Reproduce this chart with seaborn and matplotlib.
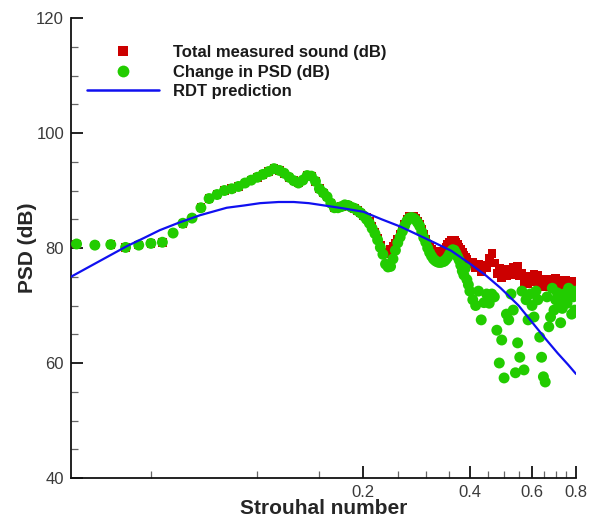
import matplotlib
matplotlib.use("Agg")
import matplotlib.pyplot as plt
from matplotlib.lines import Line2D
from matplotlib.ticker import FixedLocator, FixedFormatter, NullFormatter
import seaborn as sns
import pandas as pd

# ---------------- data ----------------
ST = [0.0308, 0.0347, 0.0385, 0.0424, 0.0462, 0.0500, 0.0539, 0.0578, 0.0616, 0.0654,
      0.0693, 0.0731, 0.0770, 0.0808, 0.0847, 0.0885, 0.0924, 0.0962, 0.1001, 0.1039,
      0.1078, 0.1116, 0.1155, 0.1193, 0.1232, 0.1270, 0.1309, 0.1347, 0.1386, 0.1424,
      0.1463, 0.1501, 0.1540, 0.1578, 0.1617, 0.1655, 0.1694, 0.1732, 0.1771, 0.1809,
      0.1848, 0.1886, 0.1925, 0.1963, 0.2002,
      0.2040, 0.2079, 0.2117, 0.2156, 0.2194, 0.2233, 0.2271, 0.2310, 0.2348, 0.2387,
      0.2425, 0.2464, 0.2502, 0.2541, 0.2579, 0.2618, 0.2656, 0.2695, 0.2733, 0.2772,
      0.2810, 0.2849, 0.2887, 0.2926, 0.2964, 0.3003, 0.3041, 0.3080, 0.3118, 0.3157,
      0.3195, 0.3234, 0.3272, 0.3311, 0.3349, 0.3388, 0.3426, 0.3465, 0.3503, 0.3542,
      0.3580, 0.3619, 0.3657, 0.3696, 0.3734, 0.3773, 0.3811, 0.3850, 0.3888, 0.3927,
      0.3965, 0.4004,
      0.4081, 0.4158, 0.4235, 0.4312, 0.4389, 0.4466, 0.4543, 0.4620, 0.4697, 0.4774,
      0.4851, 0.4928, 0.5005, 0.5082, 0.5159, 0.5236, 0.5313, 0.5390, 0.5467, 0.5544,
      0.5621, 0.5698, 0.5775, 0.5852, 0.5929, 0.6006, 0.6083, 0.6160, 0.6237, 0.6314,
      0.6391, 0.6468, 0.6545, 0.6622, 0.6699, 0.6776, 0.6853, 0.6930, 0.7007, 0.7084,
      0.7161, 0.7238, 0.7315, 0.7392, 0.7469, 0.7546, 0.7623, 0.7700, 0.7777, 0.7854,
      0.7931, 0.8008]

TOTAL_DB = [80.7, 80.5, 80.6, 80.1, 80.5, 80.8, 81.0, 82.6, 84.3, 85.2,
            87.0, 88.6, 89.3, 90.0, 90.3, 90.7, 91.3, 91.8, 92.3, 92.8,
            93.3, 93.8, 93.5, 93.0, 92.3, 91.7, 91.3, 91.8, 92.6, 92.5,
            91.6, 90.3, 89.6, 88.9, 87.8, 87.0, 87.0, 87.2, 87.5, 87.4,
            87.1, 86.9, 86.5, 86.1, 85.6,
            85.3, 84.6, 83.7, 82.8, 81.7, 80.4, 79.3, 79.0, 79.2, 79.7,
            80.3, 80.9, 81.5, 82.3, 83.2, 84.2, 85.0, 85.5, 85.6, 85.5,
            85.2, 84.7, 84.1, 83.2, 82.3, 81.5, 80.7, 80.1, 79.7, 79.4,
            79.3, 79.2, 79.2, 79.3, 79.5, 79.8, 80.2, 80.6, 81.0, 81.3,
            81.4, 81.3, 81.0, 80.6, 80.2, 79.8, 79.3, 78.8, 78.4, 78.0,
            77.6, 77.3,
            77.5, 76.5, 77.2, 75.8, 77.0, 76.6, 78.2, 79.0, 77.4, 75.6,
            76.4, 74.9, 75.9, 75.2, 76.3, 75.4, 76.6, 75.6, 76.8, 75.2,
            75.6, 74.0, 75.0, 73.8, 74.9, 74.2, 75.4, 74.3, 75.2, 73.8,
            74.6, 73.3, 74.4, 73.4, 74.5, 73.2, 74.3, 73.6, 74.8, 73.6,
            74.4, 73.0, 74.1, 73.2, 74.4, 73.0, 73.9, 72.8, 74.2, 73.4,
            74.0, 73.0]

CHANGE_DB = [80.7, 80.5, 80.6, 80.1, 80.5, 80.8, 81.0, 82.6, 84.3, 85.2,
             87.0, 88.6, 89.3, 90.0, 90.3, 90.7, 91.3, 91.8, 92.3, 92.8,
             93.3, 93.8, 93.5, 93.0, 92.3, 91.7, 91.3, 91.8, 92.6, 92.5,
             91.6, 90.3, 89.6, 88.9, 87.8, 87.0, 87.0, 87.2, 87.5, 87.4,
             87.1, 86.9, 86.5, 86.1, 85.6,
             85.0, 84.3, 83.4, 82.5, 81.4, 80.1, 78.9, 77.2, 76.7, 76.8,
             78.1, 79.6, 80.9, 81.9, 82.9, 83.9, 84.7, 85.2, 85.3, 85.2,
             84.9, 84.4, 83.8, 82.8, 81.8, 81.0, 80.0, 79.2, 78.6, 78.1,
             77.8, 77.6, 77.5, 77.5, 77.6, 77.7, 78.0, 78.4, 78.9, 79.4,
             79.7, 79.6, 79.1, 78.5, 77.9, 77.0, 76.0, 75.3, 76.5, 74.5,
             73.6, 72.5,
             71.0, 70.0, 72.5, 67.5, 70.5, 72.0, 70.4, 72.0, 71.5, 65.7,
             60.0, 64.0, 57.4, 68.5, 67.5, 72.0, 69.2, 58.3, 63.5, 61.0,
             72.5, 58.8, 71.0, 67.5, 72.0, 70.0, 68.0, 72.5, 71.0, 64.5,
             61.0, 57.6, 56.7, 71.5, 66.3, 68.0, 73.0, 69.2, 71.0, 72.2,
             70.0, 67.0, 69.5, 72.0, 71.0, 70.4, 73.0, 72.7, 68.5, 71.5,
             69.2, 72.5]

RDT_ST = [0.0297, 0.035, 0.0427, 0.048, 0.053, 0.060, 0.0689, 0.082, 0.092, 0.102,
          0.115, 0.127, 0.140, 0.151, 0.175, 0.200, 0.225, 0.255, 0.285, 0.316,
          0.355, 0.400, 0.445, 0.490, 0.550, 0.608, 0.660, 0.710, 0.760, 0.800]
RDT_DB = [75.0, 77.4, 80.3, 81.8, 83.1, 84.4, 85.7, 87.0, 87.4, 87.8,
          88.0, 88.0, 87.8, 87.5, 86.9, 86.3, 85.0, 83.7, 82.3, 81.0,
          79.5, 77.3, 75.2, 73.0, 70.0, 66.7, 64.0, 61.7, 59.7, 58.1]

X_MAJOR = [0.2, 0.4, 0.6, 0.8]
X_MAJOR_LABELS = ["0.2", "0.4", "0.6", "0.8"]
X_MINOR = [0.05, 0.1, 0.15, 0.25, 0.3, 0.35, 0.45, 0.5, 0.55, 0.65, 0.7, 0.75]
Y_MAJOR = [40, 60, 80, 100, 120]
Y_MINOR = [45, 50, 55, 65, 70, 75, 85, 90, 95, 105, 110, 115]

LABEL_TOTAL = "Total measured sound (dB)"
LABEL_CHANGE = "Change in PSD (dB)"
LABEL_RDT = "RDT prediction"

# ---------------- style ----------------
sns.set_style("white")
plt.rcParams["font.family"] = ["Liberation Sans", "DejaVu Sans"]

RED = "#cc0000"
GREEN = "#22cc00"
BLUE = "#1010f0"

df = pd.DataFrame({"St": ST, "total": TOTAL_DB, "change": CHANGE_DB})
df_rdt = pd.DataFrame({"St": RDT_ST, "dB": RDT_DB})

fig = plt.figure(figsize=(5.92, 5.19), dpi=100)
ax = fig.add_axes([71 / 592, 1 - 478 / 519, (576 - 71) / 592, (478 - 18) / 519])

sns.scatterplot(data=df, x="St", y="total", ax=ax, marker="s", s=38, color=RED,
                edgecolor="none", linewidth=0, legend=False, zorder=2)
sns.scatterplot(data=df, x="St", y="change", ax=ax, marker="o", s=62, color=GREEN,
                edgecolor="none", linewidth=0, legend=False, zorder=3)
sns.lineplot(data=df_rdt, x="St", y="dB", ax=ax, color=BLUE, linewidth=1.6,
             legend=False, zorder=4)

ax.set_xscale("log")
ax.set_xlim(0.0297, 0.8)
ax.set_ylim(40, 120)

ax.xaxis.set_major_locator(FixedLocator(X_MAJOR))
ax.xaxis.set_major_formatter(FixedFormatter(X_MAJOR_LABELS))
ax.xaxis.set_minor_locator(FixedLocator(X_MINOR))
ax.xaxis.set_minor_formatter(NullFormatter())
ax.yaxis.set_major_locator(FixedLocator(Y_MAJOR))
ax.yaxis.set_minor_locator(FixedLocator(Y_MINOR))

for side in ["top", "right"]:
    ax.spines[side].set_visible(False)
for side in ["left", "bottom"]:
    ax.spines[side].set_linewidth(1.3)
    ax.spines[side].set_color("#111111")

ax.tick_params(which="both", bottom=True, left=True, top=False, right=False)
ax.tick_params(which="major", direction="in", length=8.5, width=1.3, color="#111111",
               labelsize=12, labelcolor="#3a3a3a", pad=5)
ax.tick_params(which="minor", direction="in", length=5, width=0.9, color="#666666")

ax.set_xlabel("Strouhal number", fontsize=15, fontweight="bold")
ax.set_ylabel("PSD (dB)", fontsize=15, fontweight="bold")
ax.xaxis.set_label_coords(0.5, -0.066)
ax.xaxis.label.set_va("center")
ax.yaxis.set_label_coords(-0.068, 0.5)

handles = [
    Line2D([], [], marker="s", linestyle="", color=RED, markersize=6.5, markeredgewidth=0),
    Line2D([], [], marker="o", linestyle="", color=GREEN, markersize=8.5, markeredgewidth=0),
    Line2D([], [], color=BLUE, linewidth=1.8),
]
leg = ax.legend(handles, [LABEL_TOTAL, LABEL_CHANGE, LABEL_RDT],
                loc="upper left", bbox_to_anchor=(87 / 592, 1 - 45 / 519),
                bbox_transform=fig.transFigure, frameon=False, borderpad=0,
                borderaxespad=0, handlelength=4.3, handletextpad=0.85,
                labelspacing=0.28, prop={"size": 12, "weight": "bold"})
for t in leg.get_texts():
    t.set_color("#1a1a1a")

fig.savefig("out.png", dpi=100)
